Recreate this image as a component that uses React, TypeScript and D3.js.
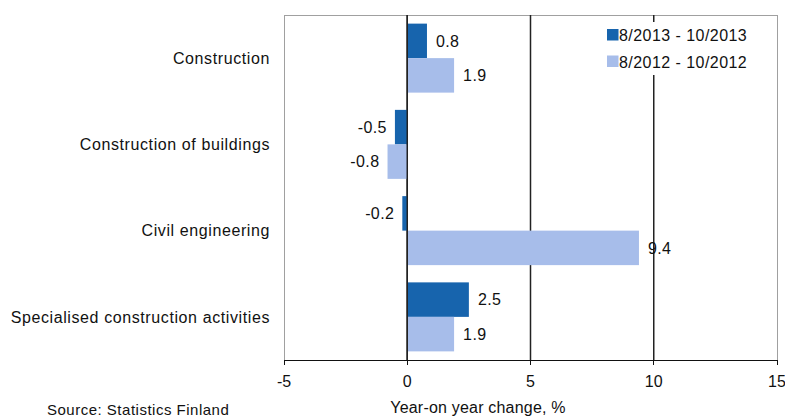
import * as d3 from "d3";

const W = 785;
const H = 417;
const LEFT = 284;
const RIGHT = 777;
const TOP = 15;
const BOTTOM = 360;

const FONT = "'Liberation Sans', Arial, sans-serif";
const DARK = "#1764ad";
const LIGHT = "#a7bdea";

const categories = [
  "Construction",
  "Construction of buildings",
  "Civil engineering",
  "Specialised construction activities",
];
const seriesNames = ["8/2013 - 10/2013", "8/2012 - 10/2012"];
const values2013 = [0.8, -0.5, -0.2, 2.5];
const values2012 = [1.9, -0.8, 9.4, 1.9];
const xTicks = [-5, 0, 5, 10, 15];
const gridAt = [0, 5, 10];

// excel-style labels use a plain hyphen, not the unicode minus d3 emits
const fmt = (v: number) => d3.format(".1f")(v).replace("\u2212", "-");

export default function App() {
  const x = d3.scaleLinear().domain([-5, 15]).range([LEFT, RIGHT]);
  const y = d3.scaleBand<string>().domain(categories).range([TOP, BOTTOM]).paddingInner(0.2).paddingOuter(0.1);
  const sub = d3.scaleBand<number>().domain([0, 1]).range([0, y.bandwidth()]);
  const colors = [DARK, LIGHT];
  const series = [values2013, values2012];

  return (
    <svg width={W} height={H} style={{ position: "absolute", left: 0, top: 0, background: "#fff" }} fontFamily={FONT}>
      <rect x={0} y={0} width={W} height={H} fill="#fff" />

      {/* plot frame */}
      <rect x={LEFT} y={TOP} width={RIGHT - LEFT} height={BOTTOM - TOP} fill="none" stroke="#a0a0a0" strokeWidth={1} shapeRendering="crispEdges" />

      {/* vertical gridlines */}
      {gridAt.map((g) => (
        <line key={g} x1={x(g)} x2={x(g)} y1={TOP} y2={BOTTOM} stroke="#222" strokeWidth={1.5} />
      ))}

      {/* bars */}
      {categories.map((c, i) =>
        series.map((vals, s) => {
          const v = vals[i];
          const y0 = (y(c) ?? 0) + (sub(s) ?? 0);
          const bh = sub.bandwidth();
          const x0 = Math.min(x(0), x(v));
          const bw = Math.abs(x(v) - x(0));
          const lx = v >= 0 ? x(v) + 9 : x(v) - 8;
          return (
            <g key={`${i}-${s}`}>
              <rect x={x0} y={y0} width={bw} height={bh} fill={colors[s]} />
              <text x={lx} y={y0 + bh / 2} dy="0.36em" textAnchor={v >= 0 ? "start" : "end"} fontSize={16} letterSpacing={0.4} fill="#111">
                {fmt(v)}
              </text>
            </g>
          );
        })
      )}

      {/* zero line above bars */}
      <line x1={x(0)} x2={x(0)} y1={TOP} y2={BOTTOM} stroke="#222" strokeWidth={1.5} />

      {/* category labels */}
      {categories.map((c) => (
        <text key={c} x={270} y={(y(c) ?? 0) + y.bandwidth() / 2} dy="0.36em" textAnchor="end" fontSize={16} letterSpacing={0.6} fill="#111">
          {c}
        </text>
      ))}

      {/* x axis */}
      <line x1={LEFT} x2={RIGHT} y1={BOTTOM} y2={BOTTOM} stroke="#111" strokeWidth={1} shapeRendering="crispEdges" />
      {xTicks.map((t) => (
        <g key={t}>
          <line x1={x(t)} x2={x(t)} y1={BOTTOM} y2={BOTTOM + 5} stroke="#111" shapeRendering="crispEdges" />
          <text x={x(t)} y={387} textAnchor="middle" fontSize={16} fill="#111">{String(t)}</text>
        </g>
      ))}
      <text x={478} y={413} textAnchor="middle" fontSize={16} letterSpacing={0.2} fill="#111">Year-on year change, %</text>
      <text x={47} y={415} fontSize={15} letterSpacing={0.5} fill="#111">Source: Statistics Finland</text>

      {/* legend */}
      <rect x={600} y={22} width={170} height={53} fill="#fff" />
      {seriesNames.map((n, i) => (
        <g key={n}>
          <rect x={607} y={29 + i * 26.5} width={11.5} height={11.5} fill={colors[i]} />
          <text x={619} y={41 + i * 26.5} fontSize={16} letterSpacing={0.45} fill="#111">{n}</text>
        </g>
      ))}
    </svg>
  );
}
